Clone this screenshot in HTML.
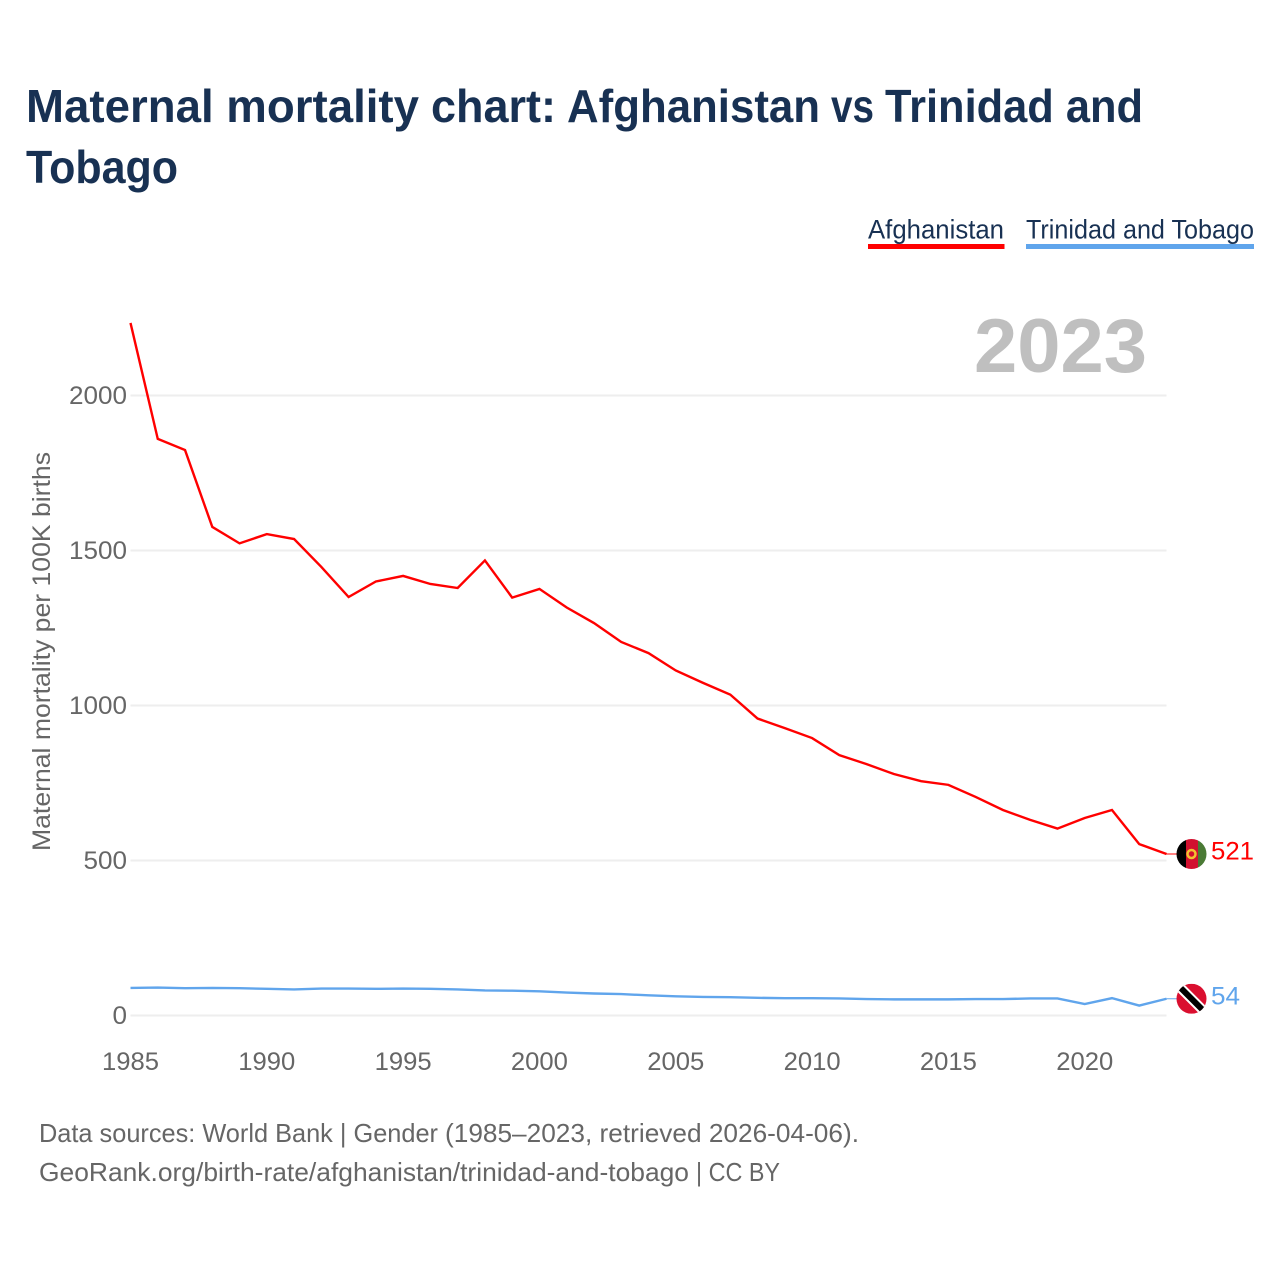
<!DOCTYPE html>
<html lang="en">
<head>
<meta charset="utf-8">
<title>Maternal mortality chart: Afghanistan vs Trinidad and Tobago</title>
<style>
html,body{margin:0;padding:0;background:#fff;}
svg{display:block;font-family:"Liberation Sans",sans-serif;}
</style>
</head>
<body>
<svg id="chart" xmlns="http://www.w3.org/2000/svg" width="1280" height="1280" viewBox="0 0 1280 1280">
  <rect width="1280" height="1280" fill="#ffffff"/>
  <g font-size="46" font-weight="700" fill="#183153">
    <text x="26" y="122" textLength="393" lengthAdjust="spacingAndGlyphs">Maternal mortality</text>
    <text x="431" y="122" textLength="125" lengthAdjust="spacingAndGlyphs">chart:</text>
    <text x="567" y="122" textLength="253" lengthAdjust="spacingAndGlyphs">Afghanistan</text>
    <text x="831" y="122" textLength="43" lengthAdjust="spacingAndGlyphs">vs</text>
    <text x="885" y="122" textLength="258" lengthAdjust="spacingAndGlyphs">Trinidad and</text>
    <text x="26" y="183" textLength="152" lengthAdjust="spacingAndGlyphs">Tobago</text>
  </g>

  <g>
    <text x="868" y="238.500" font-size="27" fill="#183153" textLength="136" lengthAdjust="spacingAndGlyphs">Afghanistan</text>
    <rect x="868" y="244" width="136.500" height="5" fill="#ff0000"/>
  </g>
  <g>
    <text x="1026" y="238.500" font-size="27" fill="#183153" textLength="228" lengthAdjust="spacingAndGlyphs">Trinidad and Tobago</text>
    <rect x="1026" y="244" width="228" height="5" fill="#60a5ec"/>
  </g>

  <text x="974" y="372" font-size="76" font-weight="700" fill="#bfbfbf" textLength="173" lengthAdjust="spacingAndGlyphs">2023</text>

  <g id="grid"></g>
  <g id="yticks"></g>
  <g id="xticks"></g>
  <text transform="translate(50,851) rotate(-90)" font-size="25" fill="#666666" textLength="399" lengthAdjust="spacingAndGlyphs">Maternal mortality per 100K births</text>

  <g id="series"></g>
  <g id="ends"></g>

  <g font-size="26" fill="#666666">
    <text x="39" y="1142" textLength="399" lengthAdjust="spacingAndGlyphs">Data sources: World Bank | Gender</text>
    <text x="445" y="1142" textLength="414" lengthAdjust="spacingAndGlyphs">(1985–2023, retrieved 2026-04-06).</text>
    <text x="39" y="1181" textLength="650" lengthAdjust="spacingAndGlyphs">GeoRank.org/birth-rate/afghanistan/trinidad-and-tobago</text>
    <text x="696" y="1181" textLength="84" lengthAdjust="spacingAndGlyphs">| CC BY</text>
  </g>
</svg>
<script>
const years = [1985,1986,1987,1988,1989,1990,1991,1992,1993,1994,1995,1996,1997,1998,1999,2000,2001,2002,2003,2004,2005,2006,2007,2008,2009,2010,2011,2012,2013,2014,2015,2016,2017,2018,2019,2020,2021,2022,2023];
const afghanistan = [2234,1860,1824,1576,1523,1553,1537,1447,1350,1400,1418,1392,1379,1468,1348,1376,1316,1266,1205,1169,1113,1073,1035,958,927,895,840,811,779,756,744,705,663,631,603,637,663,553,521];
const trinidad = [89,90,88,89,88,86,84,87,87,86,87,86,84,81,80,78,74,71,69,65,62,60,59,57,56,56,55,53,52,52,52,53,53,55,55,37,56,32,54];
const yTickValues = [0,500,1000,1500,2000];
const xTickValues = [1985,1990,1995,2000,2005,2010,2015,2020];

const NS = 'http://www.w3.org/2000/svg';
function xScale(year){ return 130.5 + (year - 1985) * (1036 / 38); }
function yScale(v){ return 1015.5 - v * 0.31; }
function make(tag, attrs, parent){
  const el = document.createElementNS(NS, tag);
  for (const k in attrs) el.setAttribute(k, attrs[k]);
  parent.appendChild(el);
  return el;
}

const grid = document.getElementById('grid');
const yticks = document.getElementById('yticks');
yTickValues.forEach(function(v){
  const line = make('line', {x1:130.5, x2:1166.5, y1:yScale(v), y2:yScale(v), stroke:'#eeeeee', 'stroke-width':2}, grid);
  
  
  const t = make('text', {x:127, y:yScale(v)+8.5, 'text-anchor':'end', 'font-size':25, fill:'#666666', textLength:String(v).length*14.5, lengthAdjust:'spacingAndGlyphs'}, yticks);
  
  
  t.textContent = v;
});

const xticks = document.getElementById('xticks');
xTickValues.forEach(function(y){
  const t = make('text', {x:xScale(y), y:1070, 'text-anchor':'middle', 'font-size':25, fill:'#666666', textLength:57, lengthAdjust:'spacingAndGlyphs'}, xticks);
  
  
  t.textContent = y;
});

function pathFor(values){
  return values.map(function(v,i){
    return (i ? 'L' : 'M') + xScale(years[i]).toFixed(2) + ' ' + yScale(v).toFixed(2);
  }).join(' ');
}
const series = document.getElementById('series');
const redLine = make('path', {d:pathFor(afghanistan), fill:'none', stroke:'#ff0000', 'stroke-width':2.4, 'stroke-linejoin':'miter'}, series);


const blueLine = make('path', {d:pathFor(trinidad), fill:'none', stroke:'#60a5ec', 'stroke-width':2.4, 'stroke-linejoin':'miter'}, series);



const ends = document.getElementById('ends');
const lastYear = years[years.length - 1];
const endX = xScale(lastYear);
const flagX = 1191.5;

// Afghanistan end marker
const lastA = afghanistan[afghanistan.length - 1];
const ay = yScale(lastA);
const connA = make('line', {x1:endX, x2:flagX-14, y1:ay, y2:ay, stroke:'#ff0000', 'stroke-width':1}, ends);


const flagA = make('g', {transform:'translate('+flagX+','+ay+')'}, ends);


const clipDefs = make('defs', {}, ends);
const clip = make('clipPath', {id:'flag-clip'}, clipDefs);
make('circle', {r:15}, clip);
const clipA = make('g', {'clip-path':'url(#flag-clip)'}, flagA);
make('rect', {x:-15, y:-15, width:10, height:30, fill:'#000000'}, clipA);
make('rect', {x:-5.5, y:-15, width:12, height:30, fill:'#d2102f'}, clipA);
make('rect', {x:6.5, y:-15, width:9, height:30, fill:'#4a7a35'}, clipA);
make('circle', {r:4, fill:'none', stroke:'#f2c230', 'stroke-width':2.5}, clipA);
const valA = make('text', {x:1211, y:ay+5.5, 'font-size':25, fill:'#ff0000', textLength:43, lengthAdjust:'spacingAndGlyphs'}, ends);


valA.textContent = lastA;

// Trinidad end marker
const lastT = trinidad[trinidad.length - 1];
const ty = yScale(lastT);
const connT = make('line', {x1:endX, x2:flagX-14, y1:ty, y2:ty, stroke:'#60a5ec', 'stroke-width':1}, ends);


const flagT = make('g', {transform:'translate('+flagX+','+ty+')'}, ends);


const clipT = make('g', {'clip-path':'url(#flag-clip)'}, flagT);
make('rect', {x:-15, y:-15, width:30, height:30, fill:'#da0f2f'}, clipT);
make('line', {x1:-15, y1:-15, x2:15, y2:15, stroke:'#ffffff', 'stroke-width':10}, clipT);
make('line', {x1:-15, y1:-15, x2:15, y2:15, stroke:'#000000', 'stroke-width':6}, clipT);
const valT = make('text', {x:1211, y:ty+5.5, 'font-size':25, fill:'#60a5ec', textLength:29, lengthAdjust:'spacingAndGlyphs'}, ends);


valT.textContent = lastT;
</script>
</body>
</html>
